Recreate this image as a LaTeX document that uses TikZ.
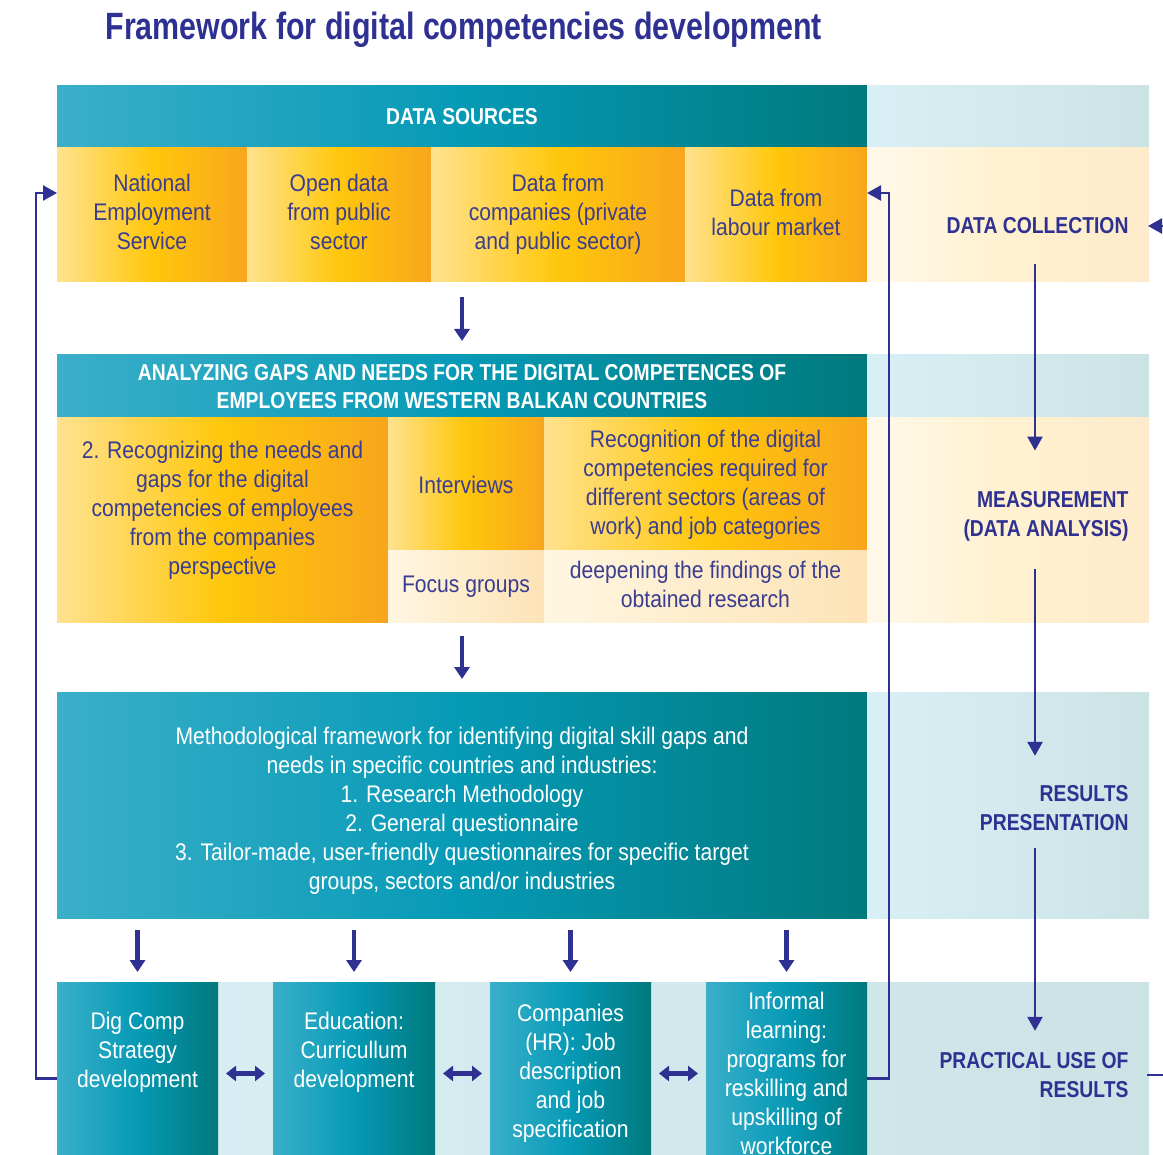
\documentclass[tikz,border=0pt]{standalone}
\usepackage{fontspec}
\setmainfont{Liberation Sans}[FakeStretch=0.88]
\newfontfamily\headfont{Liberation Sans}[FakeStretch=0.80]
\newfontfamily\sidefont{Liberation Sans}[FakeStretch=0.84]
\usetikzlibrary{arrows.meta,calc}

\definecolor{navy}{HTML}{2E3192}
\definecolor{ink}{HTML}{3A3D90}
\definecolor{tealL}{HTML}{3BAFC9}
\definecolor{tealM}{HTML}{069AB6}
\definecolor{tealR}{HTML}{00797D}
\definecolor{sunL}{HTML}{FFE28F}
\definecolor{sunM}{HTML}{FFC70B}
\definecolor{sunR}{HTML}{F8A61C}
\definecolor{creamL}{HTML}{FFF9EA}
\definecolor{creamM}{HTML}{FFF1CF}
\definecolor{creamR}{HTML}{FEEBCC}
\definecolor{paleL}{HTML}{FFF6E1}
\definecolor{paleR}{HTML}{FDE3B6}
\definecolor{iceL}{HTML}{D8EFF5}
\definecolor{iceR}{HTML}{CCE3E6}

\tikzset{
  cell/.style={inner sep=0pt, outer sep=0pt, anchor=north west, align=center},
  tealbox/.style={cell, left color=tealL, right color=tealR, middle color=tealM, text=white},
  sunbox/.style={cell, left color=sunL, right color=sunR, middle color=sunM, text=ink},
  creambox/.style={cell, left color=creamL, right color=creamR, middle color=creamM},
  palebox/.style={cell, left color=paleL, right color=paleR, text=ink},
  icebox/.style={cell, left color=iceL, right color=iceR},
  head/.style={font=\sidefont\fontsize{23}{28}\selectfont\bfseries},
  side/.style={font=\sidefont\fontsize{23}{29}\selectfont\bfseries, text=navy, align=right, anchor=east},
  down/.style={navy, line width=4.5pt, -{Triangle[width=15pt,length=12pt]}},
  both/.style={navy, line width=4.5pt, {Triangle[width=15pt,length=10pt]}-{Triangle[width=15pt,length=10pt]}},
  loop/.style={navy, line width=2.5pt, -{Triangle[width=15pt,length=14pt]}}
}

\begin{document}
\begin{tikzpicture}[x=1pt, y=-1pt, font=\fontsize{24}{29}\selectfont]
\useasboundingbox (0,0) rectangle (1163,1155);
\clip (0,0) rectangle (1163,1155);

\node[anchor=west, text=navy, font=\headfont\fontsize{38}{42}\selectfont\bfseries] (title) at (102,30) {Framework for digital competencies development};

% data sources
\node[tealbox, head, minimum width=810, minimum height=62] (dsh) at (57,86) {DATA SOURCES};
\node[icebox, minimum width=282, minimum height=62] (dshr) at (867,86) {};
\node[sunbox, minimum width=190, minimum height=134] (nes) at (57,148) {National\\Employment\\Service\\[-23pt]};
\node[sunbox, minimum width=184, minimum height=134] (opd) at (247,148) {Open data\\from public\\sector\\[-23pt]};
\node[sunbox, minimum width=254, minimum height=134] (cmp) at (431,148) {Data from\\companies (private\\and public sector)\\[-23pt]};
\node[sunbox, minimum width=182, minimum height=134] (lab) at (685,148) {Data from\\labour market\\[-23pt]};
\node[creambox, minimum width=282, minimum height=134] (dsr) at (867,148) {};
\node[side] (dc) at (1132,226) {DATA COLLECTION};

% analysis of gaps and needs
\node[tealbox, head, minimum width=810, minimum height=63] (anh) at (57,355) {ANALYZING GAPS AND NEEDS FOR THE DIGITAL COMPETENCES OF\\EMPLOYEES FROM WESTERN BALKAN COUNTRIES};
\node[icebox, minimum width=282, minimum height=63] (anhr) at (867,355) {};
\node[sunbox, minimum width=331, minimum height=204] (rec) at (57,418) {2. Recognizing the needs and\\gaps for the digital\\competencies of employees\\from the companies\\perspective\\[-5pt]};
\node[sunbox, minimum width=156, minimum height=133] (int) at (388,418) {Interviews};
\node[sunbox, minimum width=323, minimum height=133] (rec2) at (544,418) {Recognition of the digital\\competencies required for\\different sectors (areas of\\work) and job categories};
\node[palebox, minimum width=156, minimum height=71] (foc) at (388,551) {Focus groups};
\node[palebox, minimum width=323, minimum height=71] (dep) at (544,551) {deepening the findings of the\\obtained research\\[-25pt]};
\node[creambox, minimum width=282, minimum height=204] (anr) at (867,418) {};
\node[side] (mea) at (1132,516) {MEASUREMENT\\(DATA ANALYSIS)};

% methodological framework
\node[tealbox, minimum width=810, minimum height=226] (meth) at (57,692) {Methodological framework for identifying digital skill gaps and\\needs in specific countries and industries:\\1. Research Methodology\\2. General questionnaire\\3. Tailor-made, user-friendly questionnaires for specific target\\groups, sectors and/or industries\\[-36pt]};
\node[icebox, minimum width=282, minimum height=226] (methr) at (867,692) {};
\node[side] (res) at (1132,808) {RESULTS\\PRESENTATION};

% practical use
\node[icebox, minimum width=1092, minimum height=190] (use) at (57,982) {};
\node[tealbox, minimum width=161, minimum height=183] (dig) at (57,982) {Dig Comp\\Strategy\\development\\[19pt]};
\node[tealbox, minimum width=162, minimum height=183] (edu) at (273,982) {Education:\\Curricullum\\development\\[19pt]};
\node[tealbox, minimum width=161, minimum height=183] (hr) at (490,982) {Companies\\(HR): Job\\description\\and job\\specification};
\node[tealbox, minimum width=161, minimum height=183] (inf) at (706,982) {Informal\\learning:\\programs for\\reskilling and\\upskilling of\\workforce};
\node[side] (pu) at (1132,1075) {PRACTICAL USE OF\\RESULTS};

% flow between the rows
\draw[down] ($(dsh.center |- nes.south)+(0,15)$) -- ($(anh.north)+(0,-14)$);
\draw[down] ($(anh.center |- rec.south)+(0,14)$) -- ($(meth.north)+(0,-13)$);
\foreach \b in {dig,edu,hr,inf}
  \draw[down] ($(\b.north |- meth.south)+(0,12)$) -- ($(\b.north)+(0,-10)$);
\draw[both] ($(dig.east)+(8,0)$) -- ($(edu.west)+(-8,0)$);
\draw[both] ($(edu.east)+(8,0)$) -- ($(hr.west)+(-8,0)$);
\draw[both] ($(hr.east)+(8,0)$) -- ($(inf.west)+(-8,0)$);

% feedback loops
\draw[loop] ($(dig.west)+(0,5)$) -- ++(-21,0) |- ($(nes.north west)+(0,45)$);
\draw[loop] ($(inf.east)+(0,5)$) -- ++(22,0) |- ($(lab.north east)+(0,45)$);

% stages on the right
\coordinate (rx) at (1035,0);
\draw[loop] ($(dc.south -| rx)+(0,26)$) -- ($(mea.north -| rx)+(0,-37)$);
\draw[loop] ($(mea.south -| rx)+(0,25)$) -- ($(res.north -| rx)+(0,-26)$);
\draw[loop] ($(res.south -| rx)+(0,14)$) -- ($(pu.north -| rx)+(0,-18)$);
\coordinate (inR) at (1163,226);
\coordinate (outR) at (1163,1075);
\draw[loop] (inR) -- ($(dc.east)+(16,0)$);
\draw[navy, line width=2.5pt] ($(pu.east)+(15,0)$) -- (outR);
\end{tikzpicture}
\end{document}
